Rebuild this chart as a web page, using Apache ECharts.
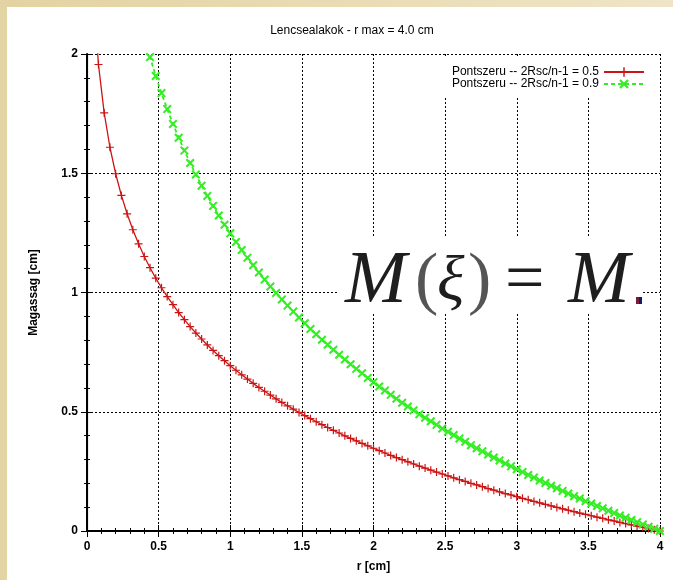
<!DOCTYPE html>
<html>
<head>
<meta charset="utf-8">
<script src="https://cdn.jsdelivr.net/npm/echarts@6/dist/echarts.min.js"></script>
<style>html,body{margin:0;padding:0;background:#fff;}#c{width:673px;height:580px;}</style>
</head>
<body>
<div id="c"></div>
<script>
// r [cm] sample positions
const rValues = [0.04,0.08,0.12,0.16,0.2,0.24,0.28,0.32,0.36,0.4,0.44,0.48,0.52,0.56,0.6,0.64,0.68,0.72,0.76,0.8,0.84,0.88,0.92,0.96,1,1.04,1.08,1.12,1.16,1.2,1.24,1.28,1.32,1.36,1.4,1.44,1.48,1.52,1.56,1.6,1.64,1.68,1.72,1.76,1.8,1.84,1.88,1.92,1.96,2,2.04,2.08,2.12,2.16,2.2,2.24,2.28,2.32,2.36,2.4,2.44,2.48,2.52,2.56,2.6,2.64,2.68,2.72,2.76,2.8,2.84,2.88,2.92,2.96,3,3.04,3.08,3.12,3.16,3.2,3.24,3.28,3.32,3.36,3.4,3.44,3.48,3.52,3.56,3.6,3.64,3.68,3.72,3.76,3.8,3.84,3.88,3.92,3.96,4];
// Magassag [cm], 2Rsc/n-1 = 0.5
const height05 = [2.303,1.956,1.753,1.609,1.498,1.407,1.330,1.263,1.204,1.151,1.104,1.060,1.020,0.983,0.949,0.916,0.886,0.857,0.830,0.805,0.780,0.757,0.735,0.714,0.693,0.674,0.655,0.637,0.619,0.602,0.586,0.570,0.554,0.539,0.525,0.511,0.497,0.484,0.471,0.458,0.446,0.434,0.422,0.411,0.399,0.388,0.378,0.367,0.357,0.347,0.337,0.327,0.317,0.308,0.299,0.290,0.281,0.272,0.264,0.255,0.247,0.239,0.231,0.223,0.215,0.208,0.200,0.193,0.186,0.178,0.171,0.164,0.157,0.151,0.144,0.137,0.131,0.124,0.118,0.112,0.105,0.099,0.093,0.087,0.081,0.075,0.070,0.064,0.058,0.053,0.047,0.042,0.036,0.031,0.026,0.020,0.015,0.010,0.005,0];
// Magassag [cm], 2Rsc/n-1 = 0.9
const height09 = [4.145,3.521,3.156,2.897,2.696,2.532,2.393,2.273,2.167,2.072,1.987,1.908,1.836,1.769,1.707,1.649,1.595,1.543,1.495,1.448,1.405,1.363,1.323,1.284,1.248,1.212,1.178,1.146,1.114,1.084,1.054,1.025,0.998,0.971,0.945,0.920,0.895,0.871,0.847,0.825,0.802,0.781,0.760,0.739,0.719,0.699,0.680,0.661,0.642,0.624,0.606,0.589,0.571,0.555,0.538,0.522,0.506,0.490,0.475,0.460,0.445,0.430,0.416,0.402,0.388,0.374,0.360,0.347,0.334,0.321,0.308,0.296,0.283,0.271,0.259,0.247,0.235,0.224,0.212,0.201,0.190,0.179,0.168,0.157,0.146,0.136,0.125,0.115,0.105,0.095,0.085,0.075,0.065,0.056,0.046,0.037,0.027,0.018,0.009,0];
const seriesNames = ['Pontszeru -- 2Rsc/n-1 = 0.5', 'Pontszeru -- 2Rsc/n-1 = 0.9'];
const titleText = 'Lencsealakok - r max = 4.0 cm';
const xName = 'r [cm]';
const yName = 'Magassag [cm]';

const FONT = '"Liberation Sans", Arial, sans-serif';
const RED = '#cc1414';
const GREEN = '#33ee22';
const plusPath = 'path://M3.4,0H4.6V3.4H8V4.6H4.6V8H3.4V4.6H0V3.4H3.4Z';
const crossPath = 'path://M0,1.6L1.6,0L10,8.4L8.4,10ZM8.4,0L10,1.6L1.6,10L0,8.4Z';

function pairs(ys){ return rValues.map((r,i)=>[r, ys[i]]); }

const chart = echarts.init(document.getElementById('c'), null, {renderer:'canvas'});

const baseX = {
  type:'value', min:0, max:4, interval:0.5,
  axisTick:{show:true, inside:true, length:6, lineStyle:{color:'#000', width:1}},
  minorTick:{show:true, splitNumber:5, length:3, lineStyle:{color:'#000', width:1}},
};
const baseY = {
  type:'value', min:0, max:2, interval:0.5,
  axisTick:{show:true, inside:true, length:6, lineStyle:{color:'#000', width:1}},
  minorTick:{show:true, splitNumber:5, length:3, lineStyle:{color:'#000', width:1}},
};

chart.setOption({
  animation:false,
  backgroundColor:'#fff',
  title:{
    text:titleText, left:347, top:20, textAlign:'center',
    textStyle:{fontFamily:FONT, fontSize:12, fontWeight:'normal', color:'#000'}
  },
  grid:{left:87, right:13, top:54, bottom:49, containLabel:false},
  legend:{
    orient:'vertical', right:20, top:58, align:'right',
    padding:[8,8,6,7], itemGap:0, itemWidth:40, itemHeight:12,
    backgroundColor:'#fff',
    textStyle:{fontFamily:FONT, fontSize:12, color:'#000', lineHeight:12},
    data:seriesNames
  },
  xAxis:[
    Object.assign({}, baseX, {
      position:'bottom',
      name:xName, nameLocation:'middle', nameGap:30,
      nameTextStyle:{fontFamily:FONT, fontSize:12, fontWeight:'bold', color:'#000'},
      axisLine:{show:true, lineStyle:{color:'#000', width:2}},
      axisLabel:{margin:10, fontFamily:FONT, fontSize:12, fontWeight:'bold', color:'#000'},
      splitLine:{show:true, lineStyle:{color:'#000', width:1, type:[2,2]}}
    }),
    Object.assign({}, baseX, {
      position:'top',
      axisLine:{show:true, lineStyle:{color:'#000', width:2}},
      axisLabel:{show:false}, splitLine:{show:false}
    })
  ],
  yAxis:[
    Object.assign({}, baseY, {
      position:'left',
      name:yName, nameLocation:'middle', nameGap:47, nameRotate:90,
      nameTextStyle:{fontFamily:FONT, fontSize:12, fontWeight:'bold', color:'#000'},
      axisLine:{show:true, lineStyle:{color:'#444', width:1.2}},
      axisLabel:{margin:9, fontFamily:FONT, fontSize:12, fontWeight:'bold', color:'#000'},
      splitLine:{show:true, lineStyle:{color:'#000', width:1, type:[2,2]}}
    }),
    Object.assign({}, baseY, {
      position:'right',
      axisLine:{show:true, lineStyle:{color:'#000', width:2}},
      axisLabel:{show:false}, splitLine:{show:false}
    })
  ],
  series:[
    {
      name:seriesNames[0], type:'line', xAxisIndex:0, yAxisIndex:0,
      data:pairs(height05), clip:true,
      symbol:plusPath, symbolSize:8, showSymbol:true,
      lineStyle:{color:RED, width:1.3},
      itemStyle:{color:RED},
      z:3
    },
    {
      name:seriesNames[1], type:'line', xAxisIndex:0, yAxisIndex:0,
      data:pairs(height09), clip:true,
      symbol:crossPath, symbolSize:9, showSymbol:true,
      lineStyle:{color:GREEN, width:1.8, type:[4,3]},
      itemStyle:{color:GREEN},
      z:4
    }
  ],
  graphic:[
    {type:'rect', left:0, top:0, z:100, shape:{width:7, height:580}, style:{fill:'#e3d4a4'}},
    {type:'rect', left:0, top:0, z:100, shape:{width:673, height:7},
      style:{fill:new echarts.graphic.LinearGradient(0,0,1,0,[{offset:0,color:'#e3d3a2'},{offset:1,color:'#efe4c6'}])}},
    {type:'rect', z:1, shape:{x:337, y:237, width:306, height:76}, style:{fill:'#fff'}},
    {type:'text', z:2, x:345, y:283, style:{text:'M', font:'italic 74px "Liberation Serif", serif', fill:'#1e1e1e', verticalAlign:'middle'}},
    {type:'text', z:2, x:415, y:283, style:{text:'(', font:'70px "Liberation Serif", serif', fill:'#555', verticalAlign:'middle'}},
    {type:'text', z:2, x:437, y:283, style:{text:'ξ', font:'italic 64px "Liberation Serif", serif', fill:'#1e1e1e', verticalAlign:'middle'}},
    {type:'text', z:2, x:468, y:283, style:{text:')', font:'70px "Liberation Serif", serif', fill:'#555', verticalAlign:'middle'}},
    {type:'text', z:2, x:505, y:283, style:{text:'=', font:'70px "Liberation Serif", serif', fill:'#1e1e1e', verticalAlign:'middle'}},
    {type:'text', z:2, x:568, y:283, style:{text:'M', font:'italic 74px "Liberation Serif", serif', fill:'#1e1e1e', verticalAlign:'middle'}},
    {type:'rect', z:2, shape:{x:636, y:297, width:3, height:7}, style:{fill:'#7a1a40'}},
    {type:'rect', z:2, shape:{x:639, y:297, width:3, height:7}, style:{fill:'#141a6a'}}
  ]
});
</script>
</body>
</html>
